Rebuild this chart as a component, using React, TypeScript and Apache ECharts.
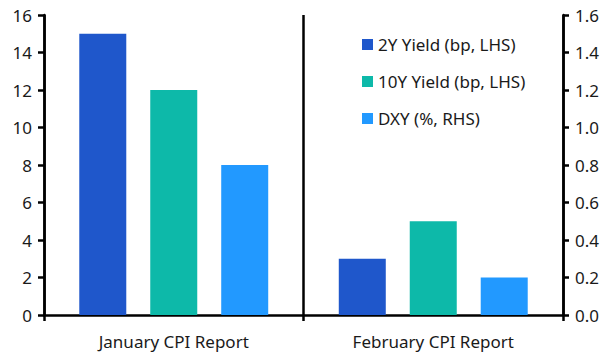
import React, { useEffect, useRef } from "react";
import * as echarts from "echarts";

const categories = ["January CPI Report", "February CPI Report"];
const seriesNames = ["2Y Yield (bp, LHS)", "10Y Yield (bp, LHS)", "DXY (%, RHS)"];
const y2Values = [15, 3];
const y10Values = [12, 5];
const dxyValues = [0.8, 0.2];
const colors = ["#1F57CB", "#0DB9A9", "#2299FF"];

export default function App() {
  const ref = useRef<HTMLDivElement>(null);
  useEffect(() => {
    const chart = echarts.init(ref.current!, undefined, { renderer: "svg" });
    const font = "Noto Sans";
    const fs = 17;
    const axisLine = { show: true, lineStyle: { color: "#000", width: 2.5 } };
    chart.setOption({
      animation: false,
      textStyle: { fontFamily: font },
      grid: { left: 44, right: 50, top: 15, bottom: 42 },
      legend: {
        orient: "vertical",
        left: 357,
        top: 31,
        itemWidth: 11,
        itemHeight: 11,
        itemGap: 20,
        icon: "rect",
        textStyle: { fontSize: fs, color: "#1a1a1a", fontFamily: font },
        data: seriesNames,
      },
      xAxis: {
        type: "category",
        data: categories,
        axisLine: { show: true, lineStyle: { color: "#000", width: 2.5 } },
        axisTick: { show: true, length: 6, lineStyle: { color: "#000", width: 2.5 } },
        splitLine: { show: true, lineStyle: { color: "#000", width: 2.5 } },
        axisLabel: { fontSize: fs, color: "#1a1a1a", margin: 18, fontFamily: font },
      },
      yAxis: [
        {
          type: "value",
          min: 0,
          max: 16,
          interval: 2,
          axisLine,
          axisTick: { show: true, length: 6, lineStyle: { color: "#000", width: 2.5 } },
          splitLine: { show: false },
          axisLabel: { fontSize: fs, color: "#1a1a1a", margin: 12, fontFamily: font },
        },
        {
          type: "value",
          min: 0,
          max: 1.6,
          interval: 0.2,
          position: "right",
          axisLine,
          axisTick: { show: true, length: 6, lineStyle: { color: "#000", width: 2.5 } },
          splitLine: { show: false },
          axisLabel: {
            fontSize: fs,
            color: "#1a1a1a",
            margin: 12,
            fontFamily: font,
            formatter: (v: number) => v.toFixed(1),
          },
        },
      ],
      series: [
        { name: seriesNames[0], type: "bar", data: y2Values, yAxisIndex: 0, barWidth: 47, barGap: "51%", itemStyle: { color: colors[0] } },
        { name: seriesNames[1], type: "bar", data: y10Values, yAxisIndex: 0, barWidth: 47, barGap: "51%", itemStyle: { color: colors[1] } },
        { name: seriesNames[2], type: "bar", data: dxyValues, yAxisIndex: 1, barWidth: 47, barGap: "51%", itemStyle: { color: colors[2] } },
      ],
    });
    return () => chart.dispose();
  }, []);
  return <div ref={ref} style={{ position: "absolute", left: 0, top: 0, width: 613, height: 357 }} />;
}
